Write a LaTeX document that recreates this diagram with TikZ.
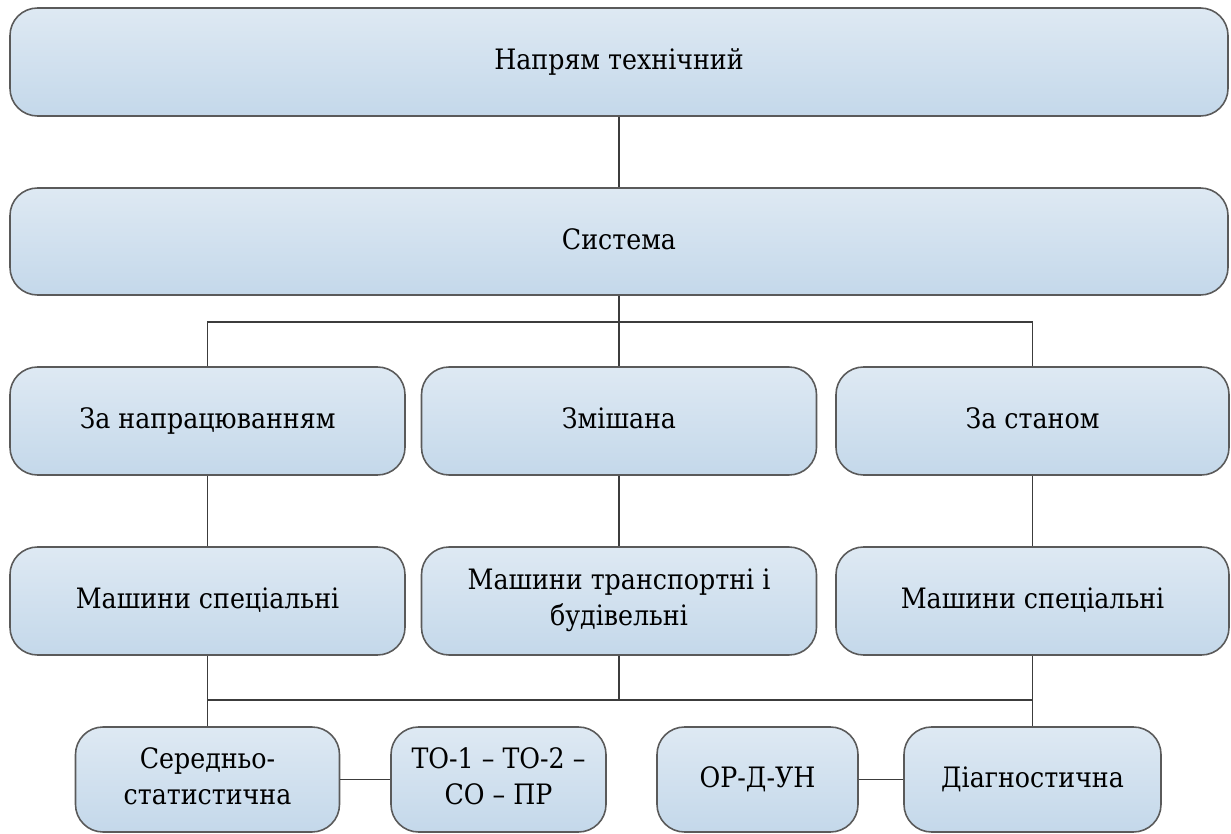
\documentclass[tikz,border=0pt]{standalone}
\usepackage{fontspec}
\setmainfont{DejaVu Serif}[FakeStretch=0.9]
\usepackage{tikz}
\usetikzlibrary{positioning, calc}
\definecolor{boxtop}{RGB}{222,233,243}
\definecolor{boxbot}{RGB}{196,216,234}
\definecolor{boxline}{RGB}{90,90,90}
\definecolor{linkline}{RGB}{60,60,60}
\newcommand{\boxstrut}{\rule[-4pt]{0pt}{17pt}}
\tikzset{
    tree_box/.style={
        draw=boxline,
        line width=0.9pt,
        top color=boxtop,
        bottom color=boxbot,
        rounded corners=0.55cm,
        align=center,
        inner sep=2pt,
        execute at begin node=\boxstrut,
        execute at end node=\boxstrut,
        font=\fontsize{16}{20.5}\selectfont
    },
    link/.style={draw=linkline, line width=1.1pt}
}

\begin{document}
\begin{tikzpicture}[x=0.02cm, y=-0.02cm]
    \useasboundingbox (0,0) rectangle (1231,834);

    % Level 1 : direction and system
    \node[tree_box, minimum width=1218*0.02cm, minimum height=108*0.02cm] (dir) at (619, 62) {Напрям технічний};
    \node[tree_box, minimum width=1218*0.02cm, minimum height=107*0.02cm] (sys) at (619, 241.5) {Система};

    % Level 2 : strategies
    \node[tree_box, minimum width=395*0.02cm, minimum height=108*0.02cm] (byWork) at (207.5, 421) {За напрацюванням};
    \node[tree_box, minimum width=395*0.02cm, minimum height=108*0.02cm] (mixed) at (619, 421) {Змішана};
    \node[tree_box, minimum width=393*0.02cm, minimum height=108*0.02cm] (byState) at (1032.5, 421) {За станом};

    % Level 3 : machines
    \node[tree_box, minimum width=395*0.02cm, minimum height=108*0.02cm] (machA) at (207.5, 601) {Машини спеціальні};
    \node[tree_box, minimum width=395*0.02cm, minimum height=108*0.02cm] (machB) at (619, 601) {Машини транспортні і\\будівельні};
    \node[tree_box, minimum width=393*0.02cm, minimum height=108*0.02cm] (machC) at (1032.5, 601) {Машини спеціальні};

    % Level 4 : methods
    \node[tree_box, minimum width=264*0.02cm, minimum height=105*0.02cm] (stat) at (207.5, 779.5) {Середньо-\\статистична};
    \node[tree_box, minimum width=215*0.02cm, minimum height=105*0.02cm] (toBox) at (498.5, 779.5) {ТО-1 – ТО-2 –\\СО – ПР};
    \node[tree_box, minimum width=201*0.02cm, minimum height=105*0.02cm] (ordBox) at (757.5, 779.5) {ОР-Д-УН};
    \node[tree_box, minimum width=257*0.02cm, minimum height=105*0.02cm] (diag) at (1032.5, 779.5) {Діагностична};

    % Connectors
    \draw[link] (dir.south) -- (sys.north);
    \draw[link] (sys.south) -- (mixed.north);
    \draw[link] (byWork.north) -- ++(0,-44) -| (byState.north);
    \draw[link] (byWork.south) -- (machA.north);
    \draw[link] (mixed.south) -- (machB.north);
    \draw[link] (byState.south) -- (machC.north);
    \draw[link] (machA.south) -- ++(0,44) coordinate (busLow) -| (machC.south);
    \draw[link] (machB.south) -- (machB.south |- busLow);
    \draw[link] (busLow) -- (stat.north);
    \draw[link] (machC.south |- busLow) -- (diag.north);
    \draw[link] (stat.east) -- (toBox.west);
    \draw[link] (ordBox.east) -- (diag.west);
\end{tikzpicture}
\end{document}
